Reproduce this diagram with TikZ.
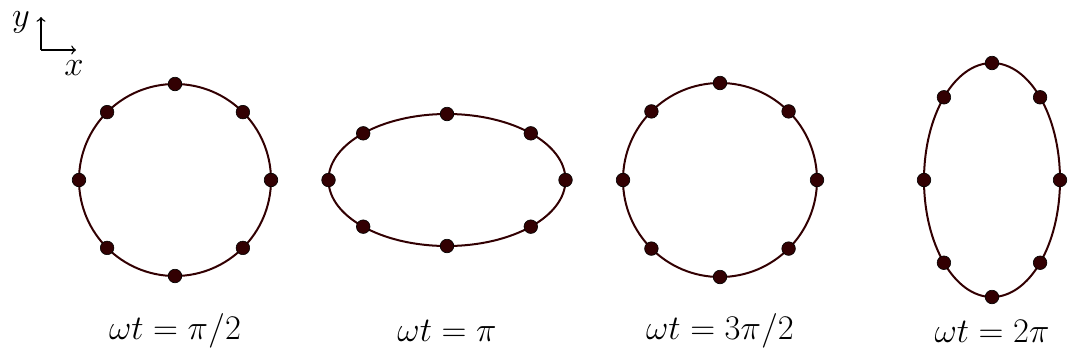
\documentclass[tikz,border=0pt]{standalone}
\usetikzlibrary{arrows, positioning}
\definecolor{darkbrown}{RGB}{50,0,2}
\tikzstyle{dot} = [circle, draw=black, fill=darkbrown, line width=0.3pt,
    inner sep=0pt, minimum size=6.8pt]
\tikzstyle{orbit} = [draw=darkbrown, line width=1pt]
\tikzstyle{axis} = [draw, line width=0.7pt, ->]
\tikzstyle{axislabel} = [font=\fontsize{16}{19}\selectfont, inner sep=0pt]
\tikzstyle{caption} = [font=\fontsize{16}{19}\selectfont]
\begin{document}
\begin{tikzpicture}[x=0.5pt, y=-0.5pt]
        \useasboundingbox (0,0) rectangle (1070,360);

        % Axes
        \coordinate (origin) at (41,50);
        \coordinate (xend) at (76,50);
        \coordinate (yend) at (41,17);
        \path [axis] (origin) -- (xend);
        \path [axis] (origin) -- (yend);
        \node [axislabel] (xlab) at (74,68) {$x$};
        \node [axislabel] (ylab) at (21,22) {$y$};

        % Orbits and dots
        \foreach \name/\cx/\rx/\ry/\lab in {a/175/96/96/{\pi/2}, b/447/118.5/66/{\pi},
                c/720/97/97/{3\pi/2}, d/992/68/117/{2\pi}} {
            \draw [orbit] (\cx,180) ellipse [x radius=\rx, y radius=\ry];
            \foreach \k in {0,...,7}
                \node [dot] (\name\k) at ({\cx+\rx*cos(45*\k)}, {180+\ry*sin(45*\k)}) {};
            \node [caption] (lab-\name) at (\cx,331) {$\omega t = \lab$};
        }
    \end{tikzpicture}
\end{document}
